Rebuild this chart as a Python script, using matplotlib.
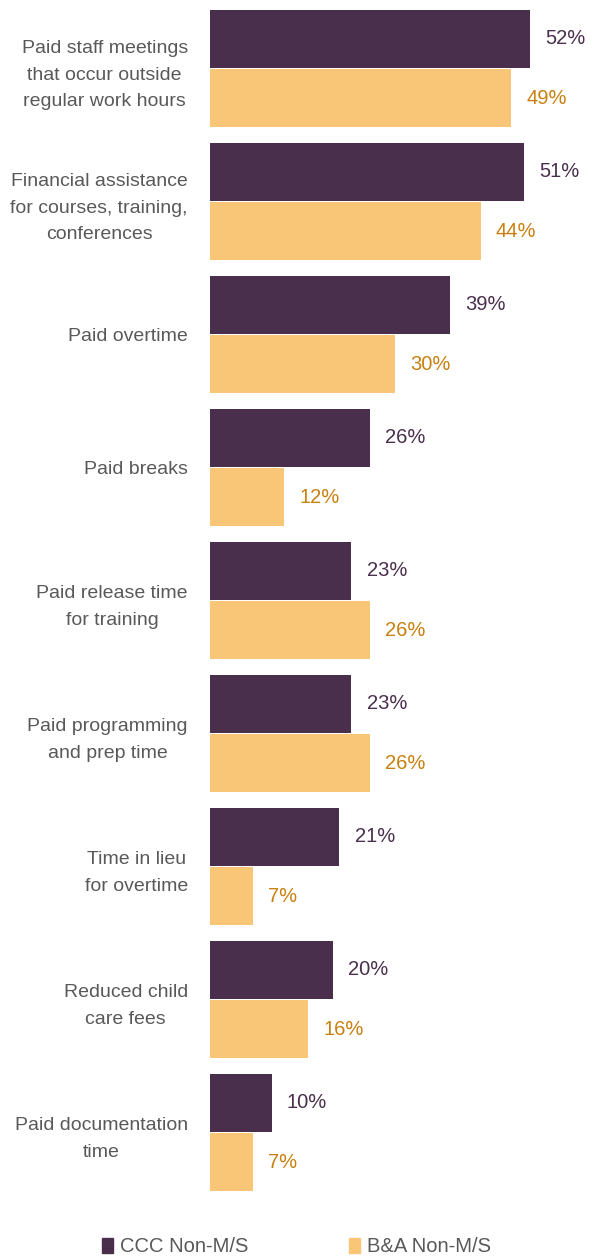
import matplotlib
matplotlib.use("Agg")
import matplotlib.pyplot as plt
from matplotlib.patches import Patch

categories = [
    "Paid staff meetings\nthat occur outside\nregular work hours",
    "Financial assistance\nfor courses, training,\nconferences",
    "Paid overtime",
    "Paid breaks",
    "Paid release time\nfor training",
    "Paid programming\nand prep time",
    "Time in lieu\nfor overtime",
    "Reduced child\ncare fees",
    "Paid documentation\ntime",
]
ccc_values = [52, 51, 39, 26, 23, 23, 21, 20, 10]
ba_values = [49, 44, 30, 12, 26, 26, 7, 16, 7]
series_names = ["CCC Non-M/S", "B&A Non-M/S"]

purple = "#4a2f4d"
orange = "#f9c577"
purple_text = "#4a2f4d"
orange_text = "#c8800f"
label_gray = "#595959"

font = ["Liberation Sans", "DejaVu Sans"]
plt.rcParams["font.family"] = font

W, H = 597, 1258
fig = plt.figure(figsize=(W / 100, H / 100), dpi=100)
ax = fig.add_axes([210 / W, (H - 1191) / H, 387 / W, 1181 / H])

offset = 0.2226
height = 0.432
ys = list(range(len(categories)))
ax.barh([y - offset for y in ys], ccc_values, height=height, color=purple)
ax.barh([y + offset for y in ys], ba_values, height=height, color=orange)

for y, a, b in zip(ys, ccc_values, ba_values):
    ax.text(a + 2.5, y - offset, f"{a}%", va="center", ha="left",
            fontsize=14.5, color=purple_text)
    ax.text(b + 2.5, y + offset, f"{b}%", va="center", ha="left",
            fontsize=14.5, color=orange_text)

ax.set_xlim(0, 387 / 6.15)
ax.set_ylim(8 + 58.5 / 133, -58.5 / 133)
ax.set_yticks(ys)
ax.set_yticklabels(categories, fontsize=14, color=label_gray,
                   linespacing=1.74, multialignment="center")
ax.tick_params(axis="y", length=0, pad=16)
ax.set_xticks([])
for s in ax.spines.values():
    s.set_visible(False)

handles = [Patch(color=purple), Patch(color=orange)]
leg = fig.legend(handles, series_names, loc="center",
                 bbox_to_anchor=(0.5 - 2 / W, 1 - 1247 / H), ncol=2,
                 frameon=False, fontsize=14.5, handlelength=0.55,
                 handleheight=0.75, handletextpad=0.35, columnspacing=5.0)
for t in leg.get_texts():
    t.set_color(label_gray)

fig.savefig("out.png", dpi=100)
